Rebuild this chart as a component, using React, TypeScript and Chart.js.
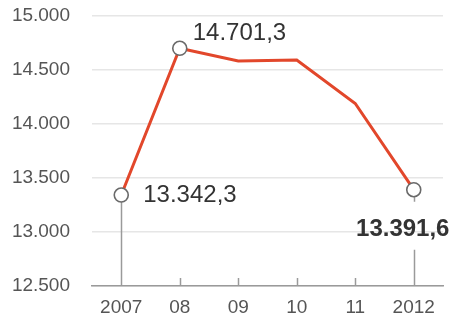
import React, { useEffect, useRef } from "react";
import { Chart, registerables } from "chart.js";

Chart.register(...registerables);

const categories = ["2007", "08", "09", "10", "11", "2012"];
const values = [13342.3, 14701.3, 14583, 14593, 14190, 13391.6];
const yTicks = [12500, 13000, 13500, 14000, 14500, 15000];
const labelTexts = ["13.342,3", "14.701,3", "", "", "", "13.391,6"];
const pointShown = [true, true, false, false, false, true];

const FONT = "'Liberation Sans', Arial, sans-serif";

const overlay = {
  id: "overlay",
  afterDatasetsDraw(chart: any) {
    const ctx = chart.ctx;
    const xs = chart.scales.x;
    const ys = chart.scales.y;
    const axisY = ys.getPixelForValue(yTicks[0]);
    ctx.save();
    ctx.strokeStyle = "#9a9a9a";
    ctx.lineWidth = 1.5;
    for (let i = 1; i < categories.length - 1; i++) {
      const x = Math.round(xs.getPixelForValue(i)) + 0.5;
      ctx.beginPath();
      ctx.moveTo(x, axisY);
      ctx.lineTo(x, axisY - 8);
      ctx.stroke();
    }
    const x0 = Math.round(xs.getPixelForValue(0)) + 0.5;
    const y0 = ys.getPixelForValue(values[0]);
    ctx.beginPath();
    ctx.moveTo(x0, y0 + 7);
    ctx.lineTo(x0, axisY);
    ctx.stroke();
    const n = categories.length - 1;
    const xn = Math.round(xs.getPixelForValue(n)) + 0.5;
    const yn = ys.getPixelForValue(values[n]);
    ctx.beginPath();
    ctx.moveTo(xn, yn + 7);
    ctx.lineTo(xn, yn + 12);
    ctx.moveTo(xn, yn + 60);
    ctx.lineTo(xn, axisY);
    ctx.stroke();
    ctx.restore();

    const meta = chart.getDatasetMeta(0);
    ctx.save();
    meta.data.forEach((pt: any, i: number) => {
      if (!pointShown[i]) return;
      ctx.beginPath();
      ctx.arc(pt.x, pt.y, 7, 0, Math.PI * 2);
      ctx.fillStyle = "#ffffff";
      ctx.fill();
      ctx.lineWidth = 1.6;
      ctx.strokeStyle = "#6a6a6a";
      ctx.stroke();
    });
    ctx.restore();

    ctx.save();
    ctx.textBaseline = "middle";
    ctx.fillStyle = "#333333";
    const p0 = meta.data[0];
    ctx.font = `24px ${FONT}`;
    ctx.textAlign = "left";
    ctx.fillText(labelTexts[0], p0.x + 22, p0.y);
    const p1 = meta.data[1];
    ctx.fillText(labelTexts[1], p1.x + 13, p1.y - 15);
    const p5 = meta.data[n];
    ctx.font = `bold 24px ${FONT}`;
    ctx.textAlign = "center";
    ctx.fillText(labelTexts[n], p5.x - 11, p5.y + 40);
    ctx.restore();
  },
};

export default function App() {
  const ref = useRef<HTMLCanvasElement>(null);
  useEffect(() => {
    if (!ref.current) return;
    const chart = new Chart(ref.current, {
      type: "line",
      data: {
        labels: categories,
        datasets: [
          {
            data: values,
            borderColor: "#e2472b",
            borderWidth: 3,
            pointRadius: 0,
            pointHoverRadius: 0,
            tension: 0,
            fill: false,
          },
        ],
      },
      options: {
        responsive: false,
        animation: false,
        events: [],
        layout: { padding: { top: 16, right: 15, left: 0, bottom: 0 } },
        plugins: { legend: { display: false }, tooltip: { enabled: false } },
        scales: {
          x: {
            offset: true,
            grid: { display: false, drawTicks: false },
            border: { display: true, color: "#9a9a9a", width: 1.5 },
            ticks: {
              color: "#555555",
              font: { family: FONT, size: 19 },
              padding: 10,
              maxRotation: 0,
            },
            afterFit(scale: any) {
              scale.height = 36;
              scale.paddingLeft = 0;
              scale.paddingRight = 0;
            },
          },
          y: {
            min: 12500,
            max: 15000,
            afterBuildTicks(scale: any) {
              scale.ticks = yTicks.map((v) => ({ value: v }));
            },
            grid: { color: "#e6e6e6", lineWidth: 1.5, drawTicks: false },
            border: { display: false },
            ticks: {
              color: "#555555",
              font: { family: FONT, size: 19 },
              padding: 22,
              callback: (v: any) => Number(v).toLocaleString("de-DE"),
            },
            afterFit(scale: any) {
              scale.width = 92;
              scale.paddingTop = 0;
              scale.paddingBottom = 0;
            },
          },
        },
      } as any,
      plugins: [overlay],
    });
    return () => chart.destroy();
  }, []);
  return (
    <div style={{ position: "fixed", left: 0, top: 0, width: 458, height: 322, background: "#fff" }}>
      <canvas ref={ref} width={458} height={322} />
    </div>
  );
}
